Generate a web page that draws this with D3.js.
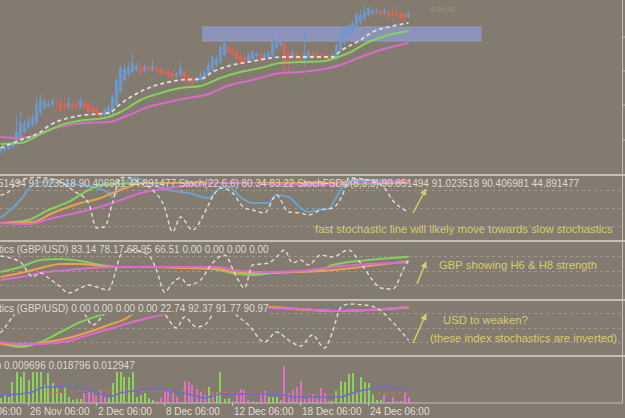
<!DOCTYPE html>
<html lang="en">
<head>
  <meta charset="UTF-8">
  <title>GBPUSD H6 - stochastics</title>
  <script src="https://cdn.jsdelivr.net/npm/d3@7"></script>
  <style>
    html, body { margin: 0; padding: 0; background: #837a70; overflow: hidden; }
    svg { display: block; font-family: "Liberation Sans", Arial, sans-serif; }
  </style>
</head>
<body>
<script>
  // ---- price bars (H6), index 0..102 ----
  const barOpen = [
    1.5496,1.5500,1.5502,1.5506,1.5516,1.5526,1.5536,1.5544,1.5550,1.5554,
    1.5574,1.5584,1.5588,1.5590,1.5594,1.5596,1.5590,1.5588,1.5592,1.5592,
    1.5586,1.5594,1.5592,1.5586,1.5582,1.5576,1.5570,1.5574,1.5576,1.5590,
    1.5616,1.5640,1.5650,1.5656,1.5660,1.5666,1.5658,1.5666,1.5660,1.5664,
    1.5662,1.5658,1.5658,1.5654,1.5648,1.5650,1.5656,1.5646,1.5644,1.5638,
    1.5640,1.5642,1.5652,1.5660,1.5670,1.5676,1.5690,1.5706,1.5700,1.5696,
    1.5688,1.5686,1.5678,1.5682,1.5688,1.5692,1.5682,1.5686,1.5690,1.5704,
    1.5710,1.5714,1.5696,1.5684,1.5692,1.5688,1.5680,1.5686,1.5694,1.5692,
    1.5690,1.5690,1.5688,1.5684,1.5684,1.5700,1.5714,1.5726,1.5734,1.5740,
    1.5754,1.5762,1.5770,1.5774,1.5776,1.5778,1.5774,1.5776,1.5774,1.5774,
    1.5772,1.5772,1.5766];
  const barHigh = [
    1.5506,1.5510,1.5514,1.5518,1.5566,1.5576,1.5560,1.5568,1.5572,1.5606,
    1.5612,1.5604,1.5600,1.5604,1.5598,1.5600,1.5606,1.5606,1.5596,1.5596,
    1.5606,1.5598,1.5596,1.5590,1.5586,1.5580,1.5584,1.5590,1.5610,1.5646,
    1.5670,1.5672,1.5676,1.5694,1.5676,1.5672,1.5672,1.5670,1.5680,1.5668,
    1.5666,1.5662,1.5662,1.5658,1.5656,1.5674,1.5660,1.5650,1.5648,1.5648,
    1.5656,1.5660,1.5676,1.5692,1.5688,1.5710,1.5726,1.5710,1.5704,1.5700,
    1.5692,1.5690,1.5694,1.5700,1.5698,1.5696,1.5696,1.5700,1.5730,1.5722,
    1.5720,1.5718,1.5700,1.5700,1.5696,1.5692,1.5736,1.5700,1.5698,1.5696,
    1.5694,1.5694,1.5692,1.5694,1.5714,1.5738,1.5748,1.5752,1.5758,1.5776,
    1.5780,1.5790,1.5788,1.5782,1.5784,1.5782,1.5784,1.5780,1.5788,1.5778,
    1.5776,1.5776,1.5778];
  const barLow = [
    1.5492,1.5496,1.5500,1.5502,1.5512,1.5522,1.5532,1.5540,1.5546,1.5550,
    1.5570,1.5580,1.5584,1.5586,1.5588,1.5576,1.5574,1.5580,1.5582,1.5580,
    1.5582,1.5580,1.5574,1.5572,1.5568,1.5566,1.5566,1.5570,1.5572,1.5586,
    1.5612,1.5636,1.5646,1.5652,1.5656,1.5650,1.5654,1.5656,1.5656,1.5652,
    1.5650,1.5650,1.5644,1.5642,1.5644,1.5648,1.5636,1.5630,1.5632,1.5636,
    1.5636,1.5638,1.5648,1.5656,1.5666,1.5672,1.5686,1.5692,1.5688,1.5678,
    1.5672,1.5674,1.5674,1.5678,1.5684,1.5678,1.5680,1.5684,1.5686,1.5700,
    1.5706,1.5650,1.5650,1.5680,1.5676,1.5676,1.5666,1.5682,1.5682,1.5682,
    1.5680,1.5682,1.5680,1.5680,1.5680,1.5696,1.5710,1.5722,1.5730,1.5736,
    1.5750,1.5758,1.5766,1.5770,1.5772,1.5768,1.5770,1.5764,1.5756,1.5766,
    1.5760,1.5756,1.5764];
  const barClose = [
    1.5502,1.5506,1.5510,1.5514,1.5538,1.5554,1.5554,1.5558,1.5564,1.5590,
    1.5600,1.5596,1.5592,1.5598,1.5592,1.5580,1.5586,1.5594,1.5586,1.5586,
    1.5600,1.5584,1.5576,1.5576,1.5572,1.5568,1.5580,1.5586,1.5606,1.5640,
    1.5664,1.5662,1.5666,1.5674,1.5668,1.5654,1.5666,1.5660,1.5668,1.5656,
    1.5654,1.5654,1.5648,1.5646,1.5652,1.5664,1.5640,1.5634,1.5634,1.5644,
    1.5650,1.5656,1.5670,1.5686,1.5682,1.5706,1.5712,1.5696,1.5692,1.5682,
    1.5676,1.5676,1.5690,1.5696,1.5694,1.5680,1.5692,1.5694,1.5718,1.5716,
    1.5716,1.5676,1.5676,1.5696,1.5680,1.5680,1.5694,1.5696,1.5686,1.5686,
    1.5684,1.5686,1.5684,1.5690,1.5710,1.5734,1.5744,1.5746,1.5754,1.5770,
    1.5770,1.5776,1.5784,1.5778,1.5780,1.5772,1.5780,1.5766,1.5770,1.5770,
    1.5764,1.5762,1.5772];

  // moving averages on the price chart, [bar, price]
  const maFast = [[0,1.5504],[5,1.5520],[10,1.5536],[12,1.5548],[16,1.5562],[21,1.5570],[27,1.5574],[30,1.5592],[33,1.5608],[37,1.5624],[41,1.5634],[45,1.5640],[50,1.5642],[53,1.5656],[58,1.5670],[62,1.5676],[66,1.5682],[70,1.5686],[75,1.5686],[79,1.5686],[83,1.5686],[85,1.5698],[90,1.5720],[93,1.5736],[97,1.5746],[102,1.5754]];
  const maMid = [[0,1.5512],[5,1.5514],[10,1.5532],[16,1.5552],[21,1.5560],[26,1.5564],[30,1.5576],[35,1.5600],[40,1.5614],[45,1.5624],[50,1.5628],[55,1.5644],[60,1.5656],[65,1.5664],[70,1.5674],[75,1.5676],[81,1.5678],[83,1.5682],[87,1.5694],[92,1.5716],[97,1.5730],[102,1.5738]];
  const maSlow = [[0,1.5526],[5,1.5524],[9,1.5530],[12,1.5540],[16,1.5548],[21,1.5554],[27,1.5556],[32,1.5570],[37,1.5586],[42,1.5596],[47,1.5604],[52,1.5612],[56,1.5626],[63,1.5640],[70,1.5654],[75,1.5656],[81,1.5662],[85,1.5670],[90,1.5686],[95,1.5700],[102,1.5714]];

  // supply zone rectangle: bars from/to, price top/bottom
  const zoneBars = [50.6, 120.1];
  const zonePrices = [1.5746, 1.5718];
  const priceTicks = [1.5726, 1.5658, 1.5590, 1.5520];

  // StochFSDiv + Stoch (window 1), [bar, value]
  const st1Blue = [[0,32.5],[5,62.5],[8,87.5],[10,92.5],[15,90.8],[20,87.5],[23,84.2],[27,74.2],[28,67.5],[30,82.5],[32,95.8],[34,99.2],[37,90.8],[42,79.2],[47,74.2],[52,65.8],[55,82.5],[57,84.2],[60,67.5],[63,57.5],[67,57.5],[69,70.8],[72,67.5],[75,49.2],[77,42.5],[79,45.8],[82,47.5],[84,67.5],[87,95.8],[92,95.8],[97,95.8],[100,92.5],[102,90.8]];
  const st1Green = [[0,24.2],[7,29.2],[12,45.8],[17,59.2],[22,79.2],[25,87.5],[29,89.2],[35,90.8],[42,90.8],[50,90.8],[58,90.8],[71,90.8],[80,89.2],[102,90.8]];
  const st1Orange = [[0,24.2],[8,25.8],[13,40.8],[20,57.5],[25,65.8],[28,74.2],[32,84.2],[35,90.8],[50,90.8],[75,90.8],[102,92.5]];
  const st1Magenta = [[0,24.2],[7,22.5],[13,32.5],[22,45.8],[28,57.5],[35,74.2],[42,82.5],[48,87.5],[54,90.8],[58,91.7],[67,89.2],[80,87.5],[87,90.8],[102,94.2]];
  const st1Fast = [[0,70.8],[2,75.8],[3,84.2],[8,100],[10,100],[15,92.5],[18,79.2],[22,57.5],[24,15.8],[26,17.5],[28,57.5],[30,100],[32,100],[35,90.8],[38,79.2],[41,50.8],[43,9.2],[45,34.2],[48,12.5],[51,40.8],[53,67.5],[55,82.5],[58,74.2],[61,49.2],[63,45.8],[66,40.8],[69,70.8],[72,42.5],[75,40.8],[77,37.5],[80,45.8],[83,49.2],[86,79.2],[87,99.2],[92,95.8],[96,82.5],[98,62.5],[102,42.5]];

  // index stochastics GBP (window 2)
  const st2Green = [[0,46.9],[5,57.1],[10,71.4],[15,73.5],[20,69.4],[25,61.2],[29,57.1],[35,57.1],[42,57.1],[47,55.1],[53,53.1],[58,44.9],[63,40.8],[68,44.9],[73,46.9],[80,51.0],[83,61.2],[92,71.4],[102,78.2]];
  const st2Orange = [[0,36.7],[5,44.9],[10,55.1],[15,63.3],[20,63.3],[25,59.2],[29,57.1],[37,57.1],[47,55.1],[53,55.1],[58,46.9],[63,44.9],[73,46.9],[80,49.0],[90,57.0],[96,63.0],[102,69.0]];
  const st2Magenta = [[0,30.6],[5,36.7],[10,44.9],[17,51.0],[23,55.1],[29,57.1],[42,57.1],[54,57.1],[60,49.0],[67,46.9],[75,49.0],[83,57.1],[92,63.3],[102,66.5]];
  const st2Fast = [[0,79.6],[5,67.3],[7,44.9],[8,36.7],[10,44.9],[12,34.7],[15,16.3],[17,4.1],[20,14.3],[22,20.4],[24,16.3],[27,10.2],[29,55.1],[30,81.6],[33,91.8],[37,81.6],[39,51.0],[41,6.1],[43,24.5],[45,34.7],[47,20.4],[50,30.6],[53,65.3],[56,81.6],[59,36.7],[61,14.3],[63,61.2],[67,65.3],[69,77.6],[71,91.8],[73,65.3],[75,71.4],[77,61.2],[80,81.6],[83,77.6],[87,91.8],[90,65.3],[93,30.6],[95,14.3],[98,12.2],[101,57.1],[102,71.0]];

  // index stochastics USD (window 3)
  const st3Green = [[0,18.4],[5,10.2],[10,20.4],[15,40.8],[20,61.2],[25,75.5],[29,87.7],[35,93.9],[50,95.9],[67,91.8],[75,87.7],[83,83.7],[92,85.7],[102,91.0]];
  const st3Orange = [[0,16.3],[5,14.3],[10,18.4],[17,28.6],[22,40.8],[27,55.1],[32,71.4],[33,77.6],[37,87.7],[45,93.9],[67,91.8],[75,86.7],[83,83.7],[92,85.7],[102,91.8]];
  const st3Magenta = [[0,20.4],[5,16.3],[10,16.3],[17,22.4],[22,34.7],[28,49.0],[33,61.2],[38,71.4],[41,77.6],[45,85.7],[55,91.8],[67,89.8],[75,87.7],[83,83.7],[92,85.7],[102,92.4]];
  const st3Fast = [[0,38.8],[1,49.0],[3,71.4],[5,89.8],[10,95.9],[15,93.9],[19,85.0],[21,77.0],[23,55.0],[26,77.6],[28,93.9],[33,95.9],[38,93.9],[41,77.6],[44,49.0],[46,71.4],[49,51.0],[51,55.1],[54,85.7],[57,93.9],[59,75.5],[62,55.1],[66,20.4],[69,40.8],[72,24.5],[75,12.2],[78,34.7],[81,8.2],[83,40.8],[85,89.8],[87,97.9],[91,95.9],[94,89.8],[98,61.2],[102,24.0]];

  // histogram window
  const histValue = [
    0.005,0.008,0.006,0.021,0.031,0.026,0.031,0.023,0.031,0.031,
    0.031,0.018,0.030,0.020,0.016,0.010,0.017,0.006,0.003,0.004,
    0.004,0.010,0.011,0.010,0.007,0.013,0.008,0.006,0.020,0.031,
    0.031,0.026,0.026,0.031,0.006,0.008,0.010,0.005,0.003,0.002,
    0.005,0.011,0.013,0.010,0.006,0.001,0.022,0.021,0.018,0.014,
    0.011,0.008,0.016,0.009,0.010,0.031,0.004,0.005,0.002,0.010,
    0.014,0.013,0.003,0.002,0.001,0.010,0.012,0.006,0.006,0.006,
    0.003,0.037,0.010,0.013,0.016,0.022,0.004,0.006,0.009,0.006,
    0.015,0.010,0.002,0.002,0.012,0.022,0.021,0.029,0.030,0.011,
    0.026,0.021,0.020,0.008,0.003,0.003,0.008,0.001,0.006,0.002,
    0.002,0.010,0.006];
  const histUp = [
    1,1,1,1,1,1,1,1,1,1,
    1,1,1,1,1,1,1,1,1,1,
    1,0,0,0,0,0,0,1,1,1,
    1,1,1,1,1,1,1,1,1,0,
    0,0,0,0,0,0,0,0,0,0,
    0,0,1,0,1,1,1,1,0,0,
    0,0,0,0,1,0,0,1,1,1,
    0,0,0,0,0,0,0,0,0,0,
    0,0,0,1,1,1,1,1,1,1,
    1,1,1,1,1,1,0,1,0,0,
    0,0,0];
  const histMa = [[0,0.008],[5,0.009],[8,0.011],[11,0.016],[13,0.016],[17,0.016],[21,0.014],[25,0.009],[27,0.006],[30,0.010],[35,0.013],[39,0.014],[43,0.012],[48,0.008],[51,0.005],[53,0.007],[55,0.009],[60,0.009],[67,0.009],[71,0.008],[73,0.006],[78,0.006],[85,0.006],[88,0.010],[92,0.014],[95,0.016],[99,0.015],[102,0.0129]];
  const histSignal = [[12,0.010],[25,0.012],[37,0.012],[50,0.011],[62,0.010],[75,0.009],[87,0.009],[100,0.010],[102,0.010]];

  // time axis
  const tickBars = [-10, 7, 24, 41, 58, 75, 92];
  const tickLabels = ["20 Nov 06:00", "26 Nov 06:00", "2 Dec 06:00", "8 Dec 06:00", "12 Dec 06:00", "18 Dec 06:00", "24 Dec 06:00"];

  const W = 625, H = 418;
  const BG = "#837a70", SEP = "#c6beb4", LEVEL = "#9f978d";
  const NOTE = "#d6cd6e", LABEL = "#dedad2";

  const svg = d3.select("body").append("svg")
    .attr("width", W)
    .attr("height", H);

  svg.append("rect").attr("width", W).attr("height", H).attr("fill", BG);

  const x = d3.scaleLinear().domain([0, 102]).range([0.5, 408.5]);

  const yPrice = d3.scaleLinear().domain([1.5454, 1.5800]).range([173, 0]);
  const ySt1 = d3.scaleLinear().domain([0, 100]).range([237.5, 177.5]);
  const ySt2 = d3.scaleLinear().domain([0, 100]).range([295, 246]);
  const ySt3 = d3.scaleLinear().domain([0, 100]).range([352, 303]);
  const yHist = d3.scaleLinear().domain([0, 0.046]).range([403, 357]);

  const defs = svg.append("defs");
  function panel(name, top, bottom) {
    defs.append("clipPath").attr("id", "clip-" + name)
      .append("rect").attr("x", 0).attr("y", top).attr("width", 622).attr("height", bottom - top);
    return svg.append("g").attr("clip-path", `url(#clip-${name})`);
  }

  const lineFor = ys => d3.line()
    .x(d => x(d[0]))
    .y(d => ys(d[1]))
    .curve(d3.curveMonotoneX);

  function drawLine(g, data, ys, color, width, dash) {
    g.append("path")
      .datum(data)
      .attr("d", lineFor(ys))
      .attr("fill", "none")
      .attr("stroke", color)
      .attr("stroke-width", width)
      .attr("stroke-dasharray", dash || null);
  }

  // ---- main price window ----
  const gMain = panel("main", 0, 174);

  gMain.append("rect")
    .attr("x", x(zoneBars[0]))
    .attr("y", yPrice(zonePrices[0]))
    .attr("width", x(zoneBars[1]) - x(zoneBars[0]))
    .attr("height", yPrice(zonePrices[1]) - yPrice(zonePrices[0]))
    .attr("fill", "#8c92b8")
    .attr("stroke", "#979cc2")
    .attr("stroke-width", 1);

  const bars = d3.range(barOpen.length).map(i => ({
    i, o: barOpen[i], h: barHigh[i], l: barLow[i], c: barClose[i]
  }));
  const candleColor = d => d.c >= d.o ? "#6e98cc" : "#da6755";

  gMain.selectAll("line.wick")
    .data(bars)
    .enter()
    .append("line")
    .attr("class", "wick")
    .attr("x1", d => x(d.i))
    .attr("x2", d => x(d.i))
    .attr("y1", d => yPrice(d.h))
    .attr("y2", d => yPrice(d.l))
    .attr("stroke", candleColor)
    .attr("stroke-width", 1);

  gMain.selectAll("rect.body")
    .data(bars)
    .enter()
    .append("rect")
    .attr("class", "body")
    .attr("x", d => x(d.i) - 1.5)
    .attr("width", 3)
    .attr("y", d => yPrice(Math.max(d.o, d.c)))
    .attr("height", d => Math.max(1, Math.abs(yPrice(d.o) - yPrice(d.c))))
    .attr("fill", candleColor);

  drawLine(gMain, maSlow, yPrice, "#d86ccb", 2);
  drawLine(gMain, maMid, yPrice, "#82d35a", 2);
  drawLine(gMain, maFast, yPrice, "#e2ddd6", 1.8, "4,3");

  svg.append("text")
    .attr("x", 430).attr("y", 11.5)
    .attr("fill", "#8da070")
    .style("font-size", "7.5px")
    .text("4:09:35");

  const pAxis = d3.axisRight(yPrice).tickValues(priceTicks).tickSize(3).tickFormat("").offset(0);
  svg.append("g").attr("transform", "translate(622.5,0)").call(pAxis)
    .call(g => g.select(".domain").remove())
    .call(g => g.selectAll(".tick line").attr("stroke", SEP));

  // ---- stochastic windows ----
  function stochWindow(name, top, bottom, ys, lines, fast) {
    const g = panel(name, top, bottom);
    [20, 50, 80].forEach(v => {
      g.append("line")
        .attr("x1", 0).attr("x2", 622)
        .attr("y1", Math.round(ys(v)) + 0.5).attr("y2", Math.round(ys(v)) + 0.5)
        .attr("stroke", LEVEL)
        .attr("stroke-dasharray", "3,3");
    });
    lines.forEach(l => drawLine(g, l.data, ys, l.color, 2));
    drawLine(g, fast, ys, "#e2ddd6", 1.4, "4,3");
    return g;
  }

  stochWindow("st1", 176, 240, ySt1, [
    { data: st1Blue, color: "#6ea2c8" },
    { data: st1Green, color: "#82d35a" },
    { data: st1Orange, color: "#e8a24e" },
    { data: st1Magenta, color: "#e068d2" }
  ], st1Fast);

  stochWindow("st2", 242, 299, ySt2, [
    { data: st2Green, color: "#82d35a" },
    { data: st2Orange, color: "#e8a24e" },
    { data: st2Magenta, color: "#e068d2" }
  ], st2Fast);

  stochWindow("st3", 301, 355, ySt3, [
    { data: st3Green, color: "#82d35a" },
    { data: st3Orange, color: "#e8a24e" },
    { data: st3Magenta, color: "#e068d2" }
  ], st3Fast);

  // ---- histogram window ----
  const gHist = panel("hist", 357, 403);
  gHist.selectAll("rect.vol")
    .data(histValue)
    .enter()
    .append("rect")
    .attr("class", "vol")
    .attr("x", (d, i) => Math.round(x(i) - 1))
    .attr("width", 2)
    .attr("y", d => yHist(d))
    .attr("height", d => yHist(0) - yHist(d))
    .attr("fill", (d, i) => histUp[i] ? "#8cd35c" : "#e070c8");
  drawLine(gHist, histSignal, yHist, "#d9705e", 1, "4,3");
  drawLine(gHist, histMa, yHist, "#6c6cd6", 1.5);

  // ---- separators and frame ----
  [174, 240, 299, 355].forEach(y => {
    svg.append("rect").attr("x", 0).attr("y", y).attr("width", W).attr("height", 2).attr("fill", SEP);
  });
  svg.append("rect").attr("x", 0).attr("y", 402.5).attr("width", 623).attr("height", 1).attr("fill", SEP);
  svg.append("rect").attr("x", 622).attr("y", 0).attr("width", 1).attr("height", 403).attr("fill", SEP);

  // ---- window labels ----
  const label = (x0, y0, s) => svg.append("text")
    .attr("x", x0).attr("y", y0)
    .attr("fill", LABEL)
    .style("font-size", "10px")
    .text(s);

  label(-2, 186.5, "51494 91.023518 90.406981 44.891477 Stoch(22,6,6) 80.34 83.22 StochFSDiv(8,3,3) 90.851494 91.023518 90.406981 44.891477");
  label(-1, 253, "tics (GBP/USD) 83.14 78.17 68.95 66.51 0.00 0.00 0.00 0.00");
  svg.append("rect").attr("x", 0).attr("y", 301).attr("width", 268).attr("height", 13.5).attr("fill", BG);
  label(-1, 311.5, "tics (GBP/USD) 0.00 0.00 0.00 0.00 22.74 92.37 91.77 90.97");
  label(-2.1, 369, ") 0.009696 0.018796 0.012947");

  // ---- time axis ----
  const xAxis = d3.axisBottom(x)
    .tickValues(tickBars)
    .tickSize(3)
    .offset(0)
    .tickFormat((d, k) => tickLabels[k]);

  const ax = svg.append("g")
    .attr("transform", "translate(0,403)")
    .call(xAxis);
  ax.select(".domain").remove();
  ax.selectAll(".tick line").attr("stroke", SEP);
  ax.selectAll(".tick text")
    .attr("text-anchor", "start")
    .attr("x", 1.5)
    .attr("y", 12)
    .attr("dy", null)
    .attr("fill", "#e2ded6")
    .style("font-family", "'Liberation Sans', Arial, sans-serif")
    .style("font-size", "10px");

  // ---- annotations ----
  defs.append("marker")
    .attr("id", "head")
    .attr("viewBox", "0 0 10 10")
    .attr("refX", 9).attr("refY", 5)
    .attr("markerWidth", 4.5).attr("markerHeight", 4.5)
    .attr("orient", "auto")
    .append("path").attr("d", "M0,0 L10,5 L0,10 z").attr("fill", NOTE);

  const arrows = [[413, 213, 426, 189], [417, 284, 426, 262], [413, 343, 426, 314]];
  arrows.forEach(a => {
    svg.append("line")
      .attr("x1", a[0]).attr("y1", a[1]).attr("x2", a[2]).attr("y2", a[3])
      .attr("stroke", NOTE).attr("stroke-width", 1.5)
      .attr("marker-end", "url(#head)");
  });

  const notes = [
    [315, 233, "fast stochastic line will likely move towards slow stochastics"],
    [439, 269, "GBP showing H6 & H8 strength"],
    [443, 323.5, "USD to weaken?"],
    [430, 341.5, "(these index stochastics are inverted)"]
  ];
  notes.forEach(n => {
    svg.append("text")
      .attr("x", n[0]).attr("y", n[1])
      .attr("fill", NOTE)
      .style("font-size", "11.3px")
      .text(n[2]);
  });
</script>
</body>
</html>
